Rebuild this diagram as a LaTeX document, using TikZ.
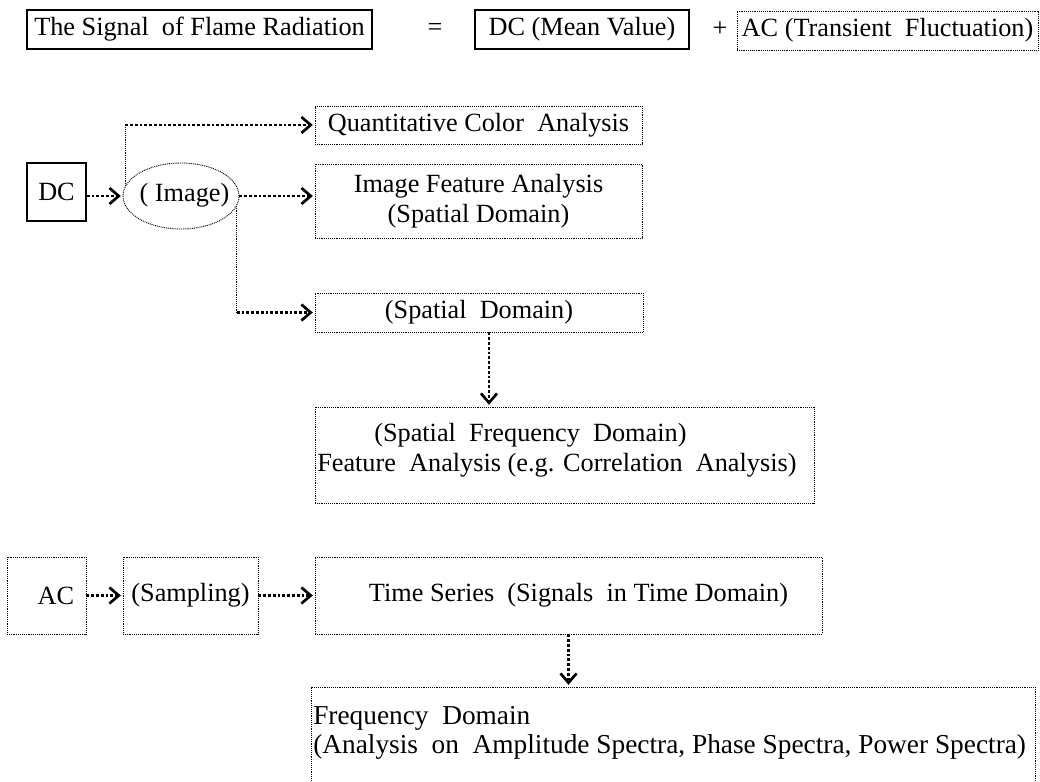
\documentclass[tikz,border=0pt]{standalone}
\usepackage{fontspec}
\setmainfont{Liberation Serif}
\usetikzlibrary{arrows.meta,shapes.geometric}
\begin{document}
\begin{tikzpicture}[x=0.75pt,y=-0.75pt,
  font=\fontsize{19.7pt}{22.5pt}\selectfont,
  solidbox/.style={draw, line width=1.1pt, inner sep=0pt, align=center},
  dotbox/.style={draw, line width=0.7pt, dash pattern=on 0.7pt off 0.7pt, inner sep=0pt, align=center},
  txt/.style={inner sep=0pt},
  flow/.style={line width=2.2pt, dash pattern=on 2.1pt off 1.5pt,
    -{Straight Barb[length=7pt,width=12pt,line width=2pt]}, shorten >=1.3pt},
  thinline/.style={line width=0.7pt, dash pattern=on 0.7pt off 0.7pt}]
\useasboundingbox (0,0) rectangle (1040,782);
% top row
\node[solidbox, minimum width={345*0.75pt}, minimum height={39*0.75pt}] (sig) at (199.5,29.5) {The Signal\ \ of Flame Radiation};
\node[txt] (eq) at (435,29.5) {=};
\node[solidbox, minimum width={214*0.75pt}, minimum height={39*0.75pt}] (dcm) at (582,29.5) {DC (Mean Value)};
\node[txt] (plus) at (720,29.5) {+};
\node[dotbox, minimum width={301*0.75pt}, minimum height={39*0.75pt}] (acm) at (887.5,30.5) {AC (Transient\ \ Fluctuation)};
% DC branch
\node[solidbox, minimum width={59*0.75pt}, minimum height={58*0.75pt}] (dc) at (56.5,192) {DC};
\node[dotbox, ellipse, minimum width={116*0.75pt}, minimum height={66*0.75pt}] (el) at (181,196) {};
\node[txt] (eltxt) at (184.5,195) {( Image)};
\node[dotbox, minimum width={327*0.75pt}, minimum height={38*0.75pt}] (quant) at (478.5,125) {Quantitative Color\ \ Analysis};
\node[dotbox, minimum width={327*0.75pt}, minimum height={74*0.75pt}] (imgf) at (478.5,201) {Image Feature Analysis\\(Spatial Domain)};
\node[dotbox, minimum width={328*0.75pt}, minimum height={39*0.75pt}] (sd) at (479,312.5) {(Spatial\ \ Domain)};
\node[dotbox, minimum width={499*0.75pt}, minimum height={96*0.75pt}] (sf) at (564.5,455) {};
\node[txt, anchor=base west] (sf1) at (374,441) {(Spatial\ \ Frequency\ \ Domain)};
\node[txt, anchor=base west] (sf2) at (317,471) {Feature\ \ Analysis (e.g. Correlation\ \ Analysis)};
% AC branch
\node[dotbox, minimum width={79*0.75pt}, minimum height={77*0.75pt}] (ac) at (46.5,595.5) {\hspace*{14pt}AC};
\node[dotbox, minimum width={135*0.75pt}, minimum height={77*0.75pt}] (samp) at (190.5,595.5) {(Sampling)};
\node[dotbox, minimum width={507*0.75pt}, minimum height={77*0.75pt}] (ts) at (568.5,595.5) {\hspace*{15pt}Time Series\ \ (Signals\ \ in Time Domain)};
\begin{scope}
\clip (0,0) rectangle (1040,782);
\node[dotbox, minimum width={724*0.75pt}, minimum height={113*0.75pt}] (freq) at (673,743.5) {};
\end{scope}
\node[txt, anchor=base west, font=\fontsize{20.5pt}{22.5pt}\selectfont] (fq1) at (313,724) {Frequency\ \ Domain};
\node[txt, anchor=base west, font=\fontsize{20.5pt}{22.5pt}\selectfont] (fq2) at (313,753) {(Analysis\ \ on\ \ Amplitude Spectra, Phase Spectra, Power Spectra)};
% connectors
\draw[flow] (dc.east |- el.west) -- (el.west);
\draw[thinline] (el.170) -- (el.170 |- quant.west);
\draw[flow] (el.170 |- quant.west) -- (quant.west);
\draw[flow] (el.east) -- (imgf.west |- el.east);
\draw[thinline] (el.-10) -- (el.-10 |- sd.west);
\draw[flow] (el.-10 |- sd.west) -- (sd.west);
\draw[flow] ([xshift=7.5pt]sd.south) -- ([xshift=7.5pt]sd.south |- sf.north);
\draw[flow] (ac.east) -- (samp.west);
\draw[flow] (samp.east) -- (ts.west);
\draw[flow] (ts.south) -- (ts.south |- freq.north);
\end{tikzpicture}
\end{document}
